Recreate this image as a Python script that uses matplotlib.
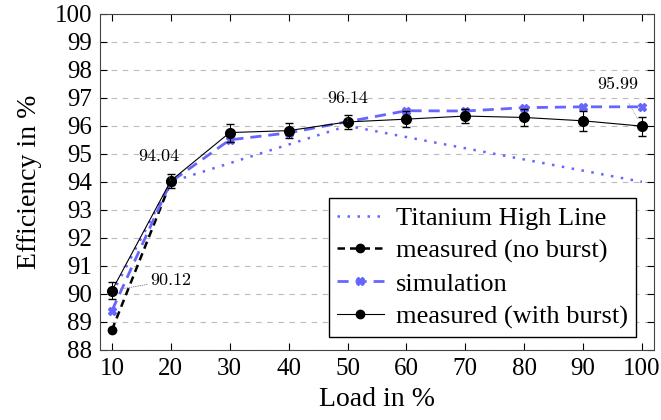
import numpy as np
import matplotlib.pyplot as plt
from matplotlib.lines import Line2D

load = [10, 20, 30, 40, 50, 60, 70, 80, 90, 100]
burst = [90.12, 94.04, 95.76, 95.83, 96.14, 96.24, 96.35, 96.30, 96.18, 95.99]
burst_err = [0.30, 0.25, 0.32, 0.28, 0.25, 0.28, 0.25, 0.30, 0.36, 0.34]
sim = [89.40, 94.00, 95.50, 95.75, 96.15, 96.54, 96.53, 96.65, 96.68, 96.68]
noburst_x = [10, 20]
noburst = [88.71, 94.00]
titan_x = [10, 20, 50, 100]
titan = [90.0, 94.0, 96.0, 94.0]

# pin labels: x, y, text, offset in pixels
pins = [(20, 94.04, "94.04", (-12, 24)),
        (50, 96.14, "96.14", (0, 24)),
        (100, 95.99, "95.99", (-24, 42))]

blue = (0.4, 0.4, 1.0)
serif = ['Liberation Serif', 'DejaVu Serif']

fig = plt.figure(figsize=(6.61, 4.2), dpi=100)
ax = fig.add_axes([0.152, 0.167, 0.837, 0.800])

ax.plot(titan_x, titan, color=blue, linestyle=(0, (1, 3)), lw=1.8)
ax.plot(noburst_x, noburst, color='black', linestyle=(0, (3, 2)), lw=1.8,
        marker='o', markersize=6)
ax.plot(load, sim, color=blue, linestyle=(0, (4, 2.5)), lw=2,
        marker='X', markersize=6)
ax.errorbar(load, burst, yerr=burst_err, color='black', lw=0.8,
            marker='o', markersize=7, capsize=3, elinewidth=0.8)

for x, y, t, off in pins:
    ax.annotate(t, xy=(x, y), xytext=off, textcoords='offset pixels',
                ha='center', va='center', fontsize=13, family='cmr10',
                arrowprops=dict(arrowstyle='-', color='gray', lw=0.4,
                                linestyle=':', shrinkA=7, shrinkB=6))
ax.annotate("90.12", xy=(10, 90.12), xytext=(38, 10), textcoords='offset pixels',
            ha='left', va='center', fontsize=13, family='cmr10',
            arrowprops=dict(arrowstyle='-', color='gray', lw=0.6,
                            linestyle=':', shrinkA=0, shrinkB=6))

ax.set_xlim(8.05, 102)
ax.set_ylim(88, 100)
ax.set_xticks(load)
ax.set_yticks(range(88, 101))
ax.yaxis.grid(True, linestyle=(0, (5, 5)), color='#bbbbbb', lw=0.8)
ax.set_axisbelow(True)
ax.tick_params(direction='in', top=True, right=True, labelsize=18, length=5, pad=6)
for lab in ax.get_xticklabels() + ax.get_yticklabels():
    lab.set_family(serif)
for s in ax.spines.values():
    s.set_color('#444444')

ax.set_xlabel('Load in %', fontsize=20, family=serif, labelpad=5)
ax.set_ylabel('Efficiency in %', fontsize=20, family=serif, labelpad=9)

handles = [
    Line2D([0], [0], color=blue, linestyle=(0, (1, 3)), lw=1.8),
    Line2D([0], [0], color='black', linestyle=(0, (3, 2)), lw=1.8, marker='o', markersize=6),
    Line2D([0], [0], color=blue, linestyle=(0, (4, 2.5)), lw=2, marker='X', markersize=6),
    Line2D([0], [0], color='black', lw=0.8, marker='o', markersize=6),
]
labels = ['Titanium High Line', 'measured (no burst)', 'simulation', 'measured (with burst)']
ax.legend(handles, labels, loc='lower right', bbox_to_anchor=(0.968, 0.039),
          prop={'family': serif, 'size': 19}, fancybox=False, edgecolor='black',
          framealpha=1, borderpad=0.3, labelspacing=0.35, handlelength=1.8,
          handletextpad=0.45, borderaxespad=0)

fig.savefig('out.png', dpi=100)
